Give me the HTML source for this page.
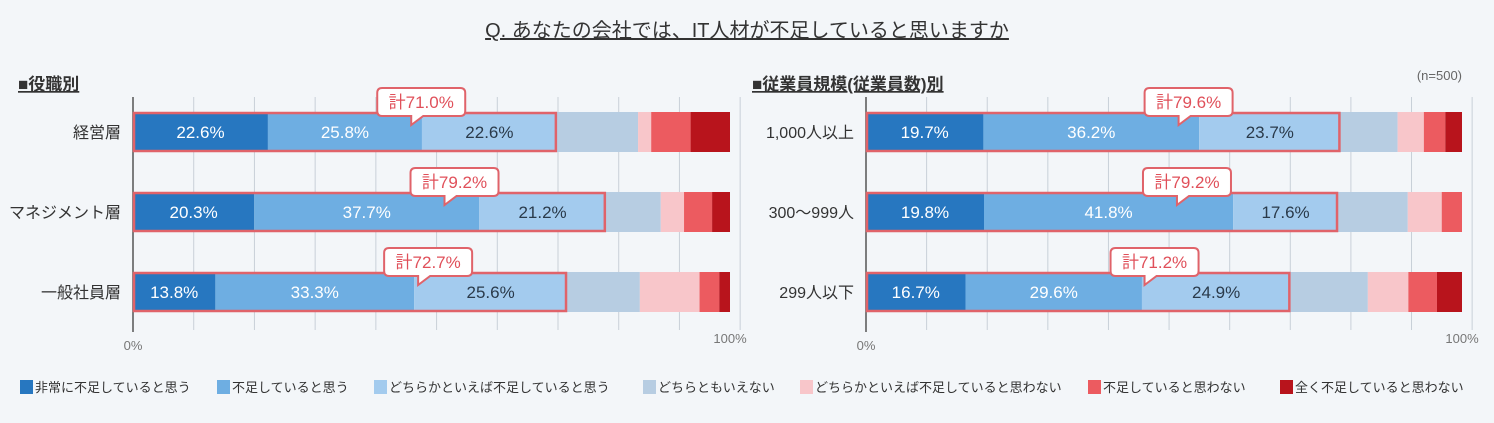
<!DOCTYPE html>
<html><head><meta charset="utf-8"><style>
body{margin:0;background:#f3f6f9;}
svg{display:block;font-family:"Liberation Sans","Noto Sans CJK JP",sans-serif;}
</style></head><body>
<svg id="c" width="1494" height="423" viewBox="0 0 1494 423">
<rect width="1494" height="423" fill="#f3f6f9"/>
<text x="747" y="37" text-anchor="middle" font-size="20" fill="#333" text-decoration="underline">Q. あなたの会社では、IT人材が不足していると思いますか</text>
<text x="18" y="90" font-size="17" font-weight="bold" fill="#333" text-decoration="underline">■役職別</text>
<text x="752" y="90" font-size="17" font-weight="bold" fill="#333" text-decoration="underline">■従業員規模(従業員数)別</text>
<text x="1462" y="80" text-anchor="end" font-size="13" fill="#666">(n=500)</text>
<g id="left"></g><g id="right"></g><g id="legend"></g>
</svg>
<script>
const seriesNames=["非常に不足していると思う","不足していると思う","どちらかといえば不足していると思う","どちらともいえない","どちらかといえば不足していると思わない","不足していると思わない","全く不足していると思わない"];
const colors=["#2777c0","#6eaee2","#a3cbee","#b7cde2","#f8c6ca","#ec5b60","#b8141c"];
const leftCats=["経営層","マネジメント層","一般社員層"];
const leftVals=[[22.6,25.8,22.6,13.6,2.2,6.6,6.6],[20.3,37.7,21.2,9.2,3.9,4.7,3.0],[13.8,33.3,25.6,12.2,10.0,3.3,1.8]];
const leftTotals=["計71.0%","計79.2%","計72.7%"];
const rightCats=["1,000人以上","300～999人","299人以下"];
const rightVals=[[19.7,36.2,23.7,9.6,4.4,3.6,2.8],[19.8,41.8,17.6,11.7,5.7,3.4,0],[16.7,29.6,24.9,13.0,6.8,4.8,4.2]];
const rightTotals=["計79.6%","計79.2%","計71.2%"];
const tickLabels=["0%","100%"];
const NS="http://www.w3.org/2000/svg";
function mk(p,t,a){const e=document.createElementNS(NS,t);for(const k in a)e.setAttribute(k,a[k]);p.appendChild(e);return e;}
function panel(g,x0,x1,cats,vals,totals,side){
  const x=v=>x0+(x1-x0)*v/100;
  const rowY=[132,212,292],bh=40;
  for(let i=1;i<=10;i++){const gx=x0+(x1-x0)*1.017*i/10;
    const l=mk(g,'line',{x1:gx,x2:gx,y1:97,y2:330,stroke:'#c8d0d8','stroke-width':1});
    
    }
  const ax=mk(g,'line',{x1:x0,x2:x0,y1:97,y2:332,stroke:'#555','stroke-width':1.5});
  
  
  const t0=mk(g,'text',{x:x0,y:350,'text-anchor':'middle','font-size':13,fill:'#777'});t0.textContent=tickLabels[0];
  
  
  const t1=mk(g,'text',{x:x1,y:343,'text-anchor':'middle','font-size':13,fill:'#777'});t1.textContent=tickLabels[1];
  
  
  cats.forEach((c,r)=>{
    const y=rowY[r]-bh/2;
    const lab=mk(g,'text',{x:x0-12,y:rowY[r]+6,'text-anchor':'end','font-size':16,fill:'#333'});lab.textContent=c;
    
    
    let cum=0;
    vals[r].forEach((v,s)=>{
      const rc=mk(g,'rect',{x:x(cum),y:y,width:Math.max(0,x(cum+v)-x(cum)),height:bh,fill:colors[s]});
      
      
      if(s<3){const tx=mk(g,'text',{x:(x(cum)+x(cum+v))/2,y:rowY[r]+6,'text-anchor':'middle','font-size':17,fill:s<2?'#fff':'#2a3a4a'});tx.textContent=v.toFixed(1)+'%';
        
        }
      cum+=v;});
    const tot=vals[r][0]+vals[r][1]+vals[r][2];
    const hb=mk(g,'rect',{x:x(0)+1,y:y+1,width:x(tot)-x(0)-2,height:bh-2,fill:'none',stroke:'#e0636a','stroke-width':2.5});
    
    
    const cx=x(tot*0.68),by=y-24,w=88,h=28;
    const p=mk(g,'path',{d:`M${cx-w/2+5},${by} h${w-10} q5,0 5,5 v${h-10} q0,5 -5,5 H${cx+2} l-12,9 v-9 H${cx-w/2+5} q-5,0 -5,-5 v${-(h-10)} q0,-5 5,-5z`,fill:'#fff',stroke:'#e0636a','stroke-width':2});
    
    
    const ct=mk(g,'text',{x:cx,y:by+20,'text-anchor':'middle','font-size':17,fill:'#e0505a'});ct.textContent=totals[r];
    
    
  });
}
panel(document.getElementById('left'),133,730,leftCats,leftVals,leftTotals,'left');
panel(document.getElementById('right'),866,1462,rightCats,rightVals,rightTotals,'right');
const lg=document.getElementById('legend');
const lx=[20,217,374,643,800,1088,1280];
seriesNames.forEach((n,i)=>{
  const r=mk(lg,'rect',{x:lx[i],y:380,width:13,height:14,fill:colors[i]});
  
  
  const t=mk(lg,'text',{x:lx[i]+15,y:392,'font-size':13,fill:'#333'});t.textContent=n;
  
  
});
</script>
</body></html>
